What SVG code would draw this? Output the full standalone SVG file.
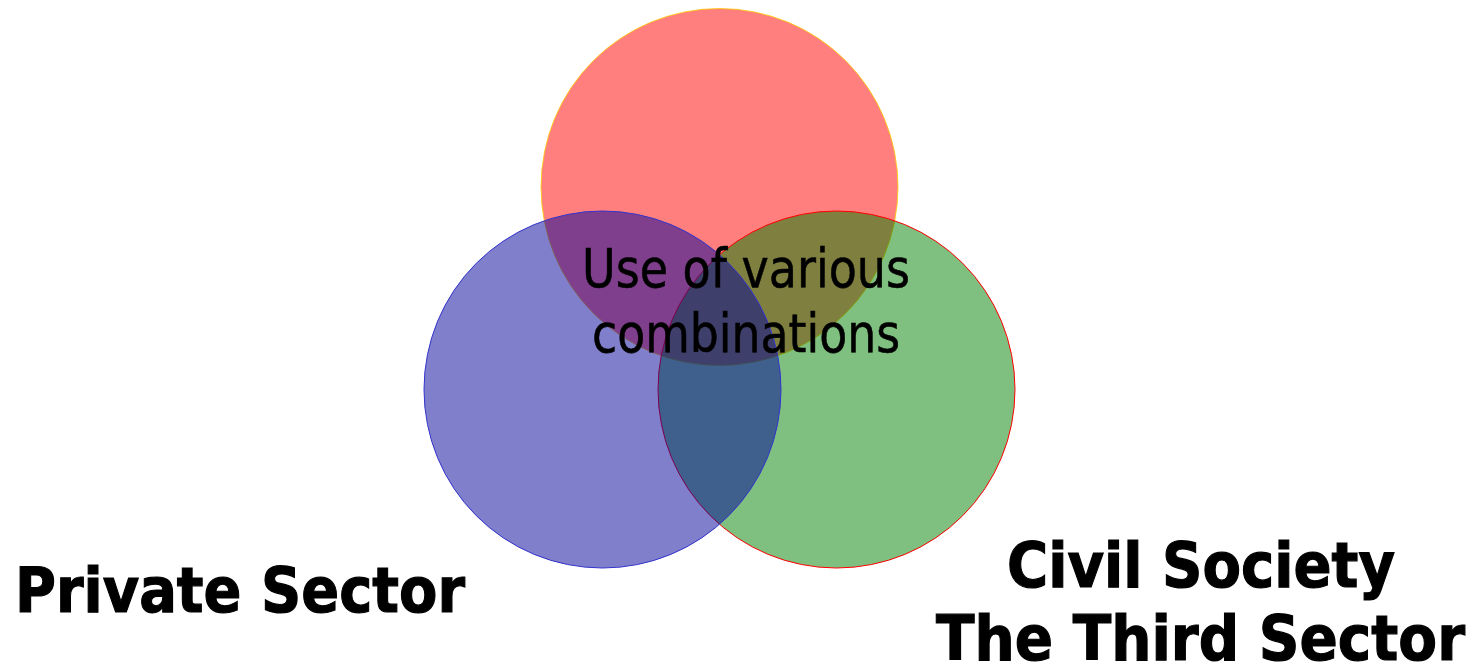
<svg xmlns="http://www.w3.org/2000/svg" width="1476" height="667" viewBox="0 0 1476 667">
<style>
.c{fill-opacity:0.5;stroke-width:1}
.mid{font-family:"DejaVu Sans","Liberation Sans",sans-serif;font-size:54px;fill:#000;stroke:#000;stroke-width:0.6}
.lab{font-family:"DejaVu Sans","Liberation Sans",sans-serif;font-size:62px;font-weight:bold;fill:#000;stroke:#000;stroke-width:1.2}
</style>
<rect width="1476" height="667" fill="#fff"/>
<g id="public">
<circle class="c" cx="719.5" cy="187" r="178.5" fill="#ff0000" stroke="#ffcc00" stroke-opacity="0.8"/>
</g>
<g id="civil">
<circle class="c" cx="836.5" cy="389.5" r="178.5" fill="#008000" stroke="#ff0000"/>
</g>
<g id="private">
<circle class="c" cx="602.5" cy="389.5" r="178.5" fill="#000099" stroke="#3333cc"/>
</g>
<g id="connectors"></g>
<g id="center-label">
<text class="mid" x="582" y="287" textLength="328" lengthAdjust="spacingAndGlyphs">Use of various</text>
<text class="mid" x="592" y="352" textLength="308" lengthAdjust="spacingAndGlyphs">combinations</text>
</g>
<g id="private-label">
<text class="lab" x="15" y="612" textLength="450" lengthAdjust="spacingAndGlyphs">Private Sector</text>
</g>
<g id="civil-label">
<text class="lab" x="1007" y="587" textLength="388" lengthAdjust="spacingAndGlyphs">Civil Society</text>
<text class="lab" x="936" y="660" textLength="529" lengthAdjust="spacingAndGlyphs">The Third Sector</text>
</g>
</svg>
